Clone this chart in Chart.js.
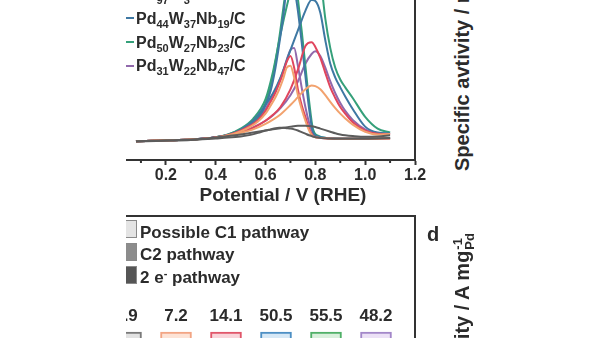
<!doctype html>
<html>

<head>
    <meta charset="utf-8">
    <title>Ethanol oxidation - CV and pathways</title>
    <script src="https://cdn.jsdelivr.net/npm/chart.js"></script>
    <style>
        body {
            margin: 0;
            width: 600px;
            height: 338px;
            overflow: hidden;
            background: #fff;
            font-family: 'Liberation Sans', Arial, sans-serif;
            font-weight: bold;
            color: #2b2b2b;
        }

        #fig {
            position: absolute;
            left: 0;
            top: 0;
            width: 600px;
            height: 338px;
            overflow: hidden;
            clip-path: inset(0 0 0 126px);
        }

        canvas {
            position: absolute;
        }

        .leg {
            position: absolute;
            left: 136px;
            font-size: 16px;
            line-height: 16px;
            white-space: nowrap;
        }

        .leg sub {
            font-size: 11px;
            vertical-align: -4px;
            line-height: 0;
        }

        .dash {
            position: absolute;
            left: 116px;
            width: 18px;
            height: 2px;
        }

        .axisTitle {
            position: absolute;
            left: 163px;
            top: 185px;
            width: 240px;
            text-align: center;
            font-size: 19px;
            line-height: 19px;
            white-space: nowrap;
        }

        .path {
            position: absolute;
            left: 140px;
            font-size: 17px;
            line-height: 17px;
            white-space: nowrap;
        }

        .path sup {
            font-size: 11px;
            vertical-align: 6px;
            line-height: 0;
        }

        .swatch {
            position: absolute;
            left: 119px;
            width: 16px;
            height: 16px;
            border: 1px solid #8a8a8a;
        }

        .rot {
            position: absolute;
            transform-origin: 0 0;
            transform: rotate(-90deg);
            font-size: 20px;
            line-height: 20px;
            white-space: nowrap;
        }

        .rot sup {
            font-size: 12px;
            vertical-align: 7px;
            line-height: 0;
        }

        .rot.end {
            width: 300px;
            text-align: right;
        }

        .stack {
            display: inline-block;
            vertical-align: -5px;
            font-size: 13px;
            line-height: 12px;
            text-align: left;
            margin-left: 1px;
        }

        .stack span {
            display: block;
        }

        .panel {
            position: absolute;
            left: 427px;
            top: 224px;
            font-size: 20px;
            line-height: 20px;
        }
    </style>
</head>

<body>
    <div id="fig">
        <canvas id="cv" width="320" height="205" style="left:126px; top:0px;"></canvas>
        <div class="axisTitle">Potential / V (RHE)</div>
        <div id="cvLegend"></div>

        <canvas id="paths" width="291" height="581" style="left:126px; top:215px;"></canvas>
        <div id="pathLegend"></div>

        <div class="rot" style="left:452px; top:171px;">Specific avtivity / mA cm<sup>-2</sup></div>
        <div class="panel">d</div>
        <div class="rot end" style="left:452px; top:533px;">Mass activity / A mg<span class="stack"><span>-1</span><span>Pd</span></span></div>
    </div>

    <script>
        Chart.defaults.font.family = "'Liberation Sans', Arial, sans-serif";
        Chart.defaults.color = '#2b2b2b';

        // potentials of the forward (anodic) and backward (cathodic) sweeps, V vs RHE
        var fwdPotential = [0.08, 0.2, 0.3, 0.4, 0.45, 0.5, 0.55, 0.6, 0.63, 0.66, 0.7, 0.73, 0.76, 0.785, 0.8, 0.82, 0.84, 0.86, 0.88, 0.9, 0.92, 0.95, 1.0, 1.05, 1.1];
        var bwdPotential = [1.1, 1.0, 0.9, 0.85, 0.81, 0.79, 0.775, 0.76, 0.745, 0.73, 0.715, 0.7, 0.685, 0.67, 0.655, 0.64, 0.62, 0.6, 0.57, 0.54, 0.5, 0.45, 0.4, 0.3, 0.2, 0.08];

        // current density, mA cm-2
        var grayFwd = [-0.02, 0.0, 0.02, 0.07, 0.11, 0.15, 0.2, 0.25, 0.28, 0.31, 0.35, 0.37, 0.37, 0.36, 0.34, 0.3, 0.26, 0.22, 0.18, 0.15, 0.13, 0.11, 0.09, 0.1, 0.13];
        var grayBwd = [0.06, 0.04, 0.04, 0.05, 0.07, 0.1, 0.13, 0.17, 0.21, 0.25, 0.28, 0.3, 0.31, 0.32, 0.32, 0.31, 0.28, 0.25, 0.19, 0.14, 0.1, 0.07, 0.05, 0.01, -0.01, -0.03];
        var orangeFwd = [-0.02, 0.0, 0.02, 0.07, 0.12, 0.19, 0.28, 0.42, 0.53, 0.66, 0.9, 1.1, 1.3, 1.4, 1.38, 1.3, 1.15, 0.98, 0.82, 0.68, 0.56, 0.4, 0.22, 0.15, 0.16];
        var orangeBwd = [0.05, 0.04, 0.04, 0.05, 0.07, 0.1, 0.25, 0.5, 0.8, 1.15, 1.6, 1.9, 1.85, 1.55, 1.3, 1.1, 0.88, 0.68, 0.48, 0.35, 0.23, 0.13, 0.07, 0.02, 0.0, -0.02];
        var redFwd = [-0.02, 0.0, 0.02, 0.07, 0.12, 0.2, 0.32, 0.5, 0.65, 0.85, 1.3, 1.8, 2.4, 2.5, 2.38, 2.1, 1.72, 1.35, 1.08, 0.85, 0.68, 0.46, 0.25, 0.17, 0.16];
        var redBwd = [0.05, 0.04, 0.04, 0.05, 0.07, 0.12, 0.3, 0.6, 0.9, 1.3, 1.85, 2.15, 2.0, 1.7, 1.45, 1.22, 0.98, 0.75, 0.52, 0.38, 0.25, 0.14, 0.08, 0.02, 0.0, -0.02];
        var blueFwd = [-0.02, 0.0, 0.02, 0.08, 0.14, 0.27, 0.5, 0.9, 1.2, 1.6, 2.3, 2.8, 3.3, 3.58, 3.55, 3.25, 2.55, 1.95, 1.6, 1.35, 1.12, 0.8, 0.35, 0.2, 0.18];
        var blueBwd = [0.06, 0.05, 0.05, 0.06, 0.1, 0.22, 0.8, 1.65, 2.5, 3.3, 3.9, 4.3, 3.9, 3.1, 2.45, 1.85, 1.25, 0.9, 0.55, 0.38, 0.25, 0.14, 0.08, 0.02, 0.0, -0.02];
        var greenFwd = [-0.02, 0.0, 0.02, 0.08, 0.15, 0.3, 0.55, 1.05, 1.75, 2.7, 3.8, 4.5, 4.9, 5.0, 4.9, 4.2, 3.1, 2.35, 1.85, 1.55, 1.35, 1.08, 0.6, 0.3, 0.2];
        var greenBwd = [0.06, 0.05, 0.05, 0.06, 0.12, 0.3, 1.0, 1.9, 2.8, 3.6, 4.3, 4.6, 4.0, 3.3, 2.6, 2.0, 1.35, 0.95, 0.6, 0.4, 0.27, 0.15, 0.08, 0.02, 0.0, -0.02];
        var purpleFwd = [-0.02, 0.0, 0.02, 0.07, 0.12, 0.21, 0.33, 0.5, 0.64, 0.82, 1.15, 1.5, 1.95, 2.2, 2.27, 2.15, 1.85, 1.5, 1.2, 0.95, 0.75, 0.52, 0.28, 0.18, 0.17];
        var purpleBwd = [0.05, 0.04, 0.04, 0.05, 0.08, 0.2, 0.45, 0.85, 1.35, 1.9, 2.35, 2.3, 2.05, 1.75, 1.5, 1.28, 1.02, 0.8, 0.55, 0.4, 0.26, 0.14, 0.08, 0.02, 0.0, -0.02];

        var sampleColors = ['#5c5c5c', '#f2a26e', '#e0455d', '#3e78a3', '#35a07a', '#9169ac'];
        var sampleFwd = [grayFwd, orangeFwd, redFwd, blueFwd, greenFwd, purpleFwd];
        var sampleBwd = [grayBwd, orangeBwd, redBwd, blueBwd, greenBwd, purpleBwd];

        // legend rows (only the last ones are in view)
        var legendNames = ['Pd<sub>97</sub>W<sub>3</sub>/C', 'Pd<sub>44</sub>W<sub>37</sub>Nb<sub>19</sub>/C',
            'Pd<sub>50</sub>W<sub>27</sub>Nb<sub>23</sub>/C', 'Pd<sub>31</sub>W<sub>22</sub>Nb<sub>47</sub>/C'];
        var legendColors = ['#e0455d', '#3e78a3', '#35a07a', '#9169ac'];
        var legendBaselines = [0, 24, 48, 71.5];

        var xTickValues = [0.1, 0.2, 0.3, 0.4, 0.5, 0.6, 0.7, 0.8, 0.9, 1.0, 1.1, 1.2];
        var xTickLabels = ['', '0.2', '', '0.4', '', '0.6', '', '0.8', '', '1.0', '', '1.2'];

        // product pathway shares, % (C1 share is printed above each bar)
        var c1Share = [1.9, 7.2, 14.1, 50.5, 55.5, 48.2];
        var c2Share = [78.3, 73.6, 68.2, 38.1, 34.9, 40.6];
        var twoEShare = [19.8, 19.2, 17.7, 11.4, 9.6, 11.2];
        var barSlots = [0, 1, 2, 3, 4, 5];

        var barEdges = ['#7a7a7a', '#f2a584', '#e0566a', '#4d8fc4', '#50b068', '#a387c9'];
        var c1Fills = ['#e2e2e2', '#fde3d6', '#f9d4da', '#d6e8f6', '#d9f0dc', '#ece1f6'];
        var c2Fills = ['#b0b0b0', '#f8c2a8', '#f0a0ac', '#a6cbe8', '#a8dcb2', '#cdb8e6'];
        var twoEFills = ['#707070', '#e98d64', '#cf4258', '#3d7fb4', '#3f9c56', '#8a6bb4'];

        var pathwayNames = ['Possible C1 pathway', 'C2 pathway', '2 e<sup>-</sup> pathway'];
        var pathwayShades = ['#e4e4e4', '#8c8c8c', '#555555'];
        var pathwayBaselines = [238, 260.5, 283.5];

        /* -- legends drawn as text next to the plots -- */
        var cvLegend = document.getElementById('cvLegend');
        legendNames.forEach((nome, i) => {
            var linha = document.createElement('div');
            linha.className = 'leg';
            linha.style.top = (legendBaselines[i] - 13.5) + 'px';
            linha.innerHTML = nome;
            cvLegend.appendChild(linha);
            var traco = document.createElement('div');
            traco.className = 'dash';
            traco.style.top = (legendBaselines[i] - 7) + 'px';
            traco.style.background = legendColors[i];
            cvLegend.appendChild(traco);
        });

        var pathLegend = document.getElementById('pathLegend');
        pathwayNames.forEach((nome, i) => {
            var caixa = document.createElement('div');
            caixa.className = 'swatch';
            caixa.style.top = (pathwayBaselines[i] - 18) + 'px';
            caixa.style.background = pathwayShades[i];
            pathLegend.appendChild(caixa);
            var texto = document.createElement('div');
            texto.className = 'path';
            texto.style.top = (pathwayBaselines[i] - 14.4) + 'px';
            texto.innerHTML = nome;
            pathLegend.appendChild(texto);
        });

        /* -- right edge of the frame -- */
        var frameEdge = {
            id: 'frameEdge',
            afterDraw(chart, args, opts) {
                var ctx = chart.ctx;
                var a = chart.chartArea;
                ctx.save();
                ctx.strokeStyle = '#333';
                ctx.lineWidth = 2;
                ctx.beginPath();
                if (opts.top) {
                    ctx.moveTo(a.left, a.top);
                    ctx.lineTo(a.right, a.top);
                } else {
                    ctx.moveTo(a.right, a.top);
                }
                ctx.lineTo(a.right, a.bottom + 1);
                ctx.stroke();
                ctx.restore();
            }
        };

        // shorter ticks for the unlabelled tenths
        var minorTicks = {
            id: 'minorTicks',
            afterDraw(chart) {
                var ctx = chart.ctx;
                var x = chart.scales.x;
                ctx.save();
                ctx.strokeStyle = '#333';
                ctx.lineWidth = 2;
                xTickValues.forEach((v, i) => {
                    if (xTickLabels[i]) return;
                    var px = x.getPixelForValue(v);
                    ctx.beginPath();
                    ctx.moveTo(px, x.top);
                    ctx.lineTo(px, x.top + 3);
                    ctx.stroke();
                });
                ctx.restore();
            }
        };

        /* -- CV curves -- */
        var cvSets = [];
        sampleColors.forEach((cor, s) => {
            [[fwdPotential, sampleFwd[s]], [bwdPotential, sampleBwd[s]]].forEach((par) => {
                cvSets.push({
                    data: par[0].map((v, i) => ({ x: v, y: par[1][i] })),
                    borderColor: cor,
                    borderWidth: 2,
                    pointRadius: 0,
                    fill: false,
                    cubicInterpolationMode: 'monotone'
                });
            });
        });

        var cv = new Chart(document.getElementById('cv'), {
            type: 'line',
            data: { datasets: cvSets },
            plugins: [frameEdge, minorTicks],
            options: {
                responsive: false,
                animation: false,
                layout: { padding: { left: 0, right: 31, top: 0, bottom: 18 } },
                plugins: { legend: { display: false }, tooltip: { enabled: false }, frameEdge: { top: false } },
                scales: {
                    x: {
                        type: 'linear',
                        min: 0.04,
                        max: 1.2,
                        afterBuildTicks: (scale) => {
                            scale.ticks = xTickValues.map((v) => ({ value: v }));
                        },
                        ticks: {
                            autoSkip: false,
                            maxRotation: 0,
                            padding: 3,
                            color: '#2b2b2b',
                            font: { size: 16, weight: 'bold', lineHeight: 1 },
                            callback: (v, i) => xTickLabels[i]
                        },
                        grid: {
                            drawOnChartArea: false,
                            tickLength: 5,
                            tickWidth: 2,
                            color: '#333',
                            tickColor: (c) => (xTickLabels[c.index] ? '#333' : 'rgba(0,0,0,0)')
                        },
                        border: { color: '#333', width: 2 }
                    },
                    y: { display: false, min: -0.5, max: 3.575 }
                }
            }
        });

        /* -- pathway bars, stacked to 100 % -- */
        function barSet(nome, valores, fundo) {
            return {
                label: nome,
                data: barSlots.map((p, i) => ({ x: p, y: valores[i] })),
                backgroundColor: fundo,
                borderColor: barEdges,
                borderWidth: 2,
                barThickness: 31
            };
        }

        var shareLabels = {
            id: 'shareLabels',
            afterDatasetsDraw(chart) {
                var ctx = chart.ctx;
                var meta = chart.getDatasetMeta(2);
                ctx.save();
                ctx.font = "bold 17px 'Liberation Sans', Arial, sans-serif";
                ctx.fillStyle = '#2b2b2b';
                ctx.textAlign = 'center';
                ctx.textBaseline = 'middle';
                meta.data.forEach((barra, i) => {
                    ctx.fillText(c1Share[i].toFixed(1), barra.x, barra.y - 16);
                });
                ctx.restore();
            }
        };

        var paths = new Chart(document.getElementById('paths'), {
            type: 'bar',
            data: {
                datasets: [
                    barSet('2 e- pathway', twoEShare, twoEFills),
                    barSet('C2 pathway', c2Share, c2Fills),
                    barSet('Possible C1 pathway', c1Share, c1Fills)
                ]
            },
            plugins: [frameEdge, shareLabels],
            options: {
                responsive: false,
                animation: false,
                layout: { padding: { left: 0, right: 2, top: 1, bottom: 0 } },
                plugins: { legend: { display: false }, tooltip: { enabled: false }, frameEdge: { top: true } },
                scales: {
                    x: { type: 'linear', display: false, min: 0, max: 5.78, stacked: true, offset: false },
                    y: { display: false, min: 0, max: 125, stacked: true }
                }
            }
        });
    </script>
</body>

</html>
